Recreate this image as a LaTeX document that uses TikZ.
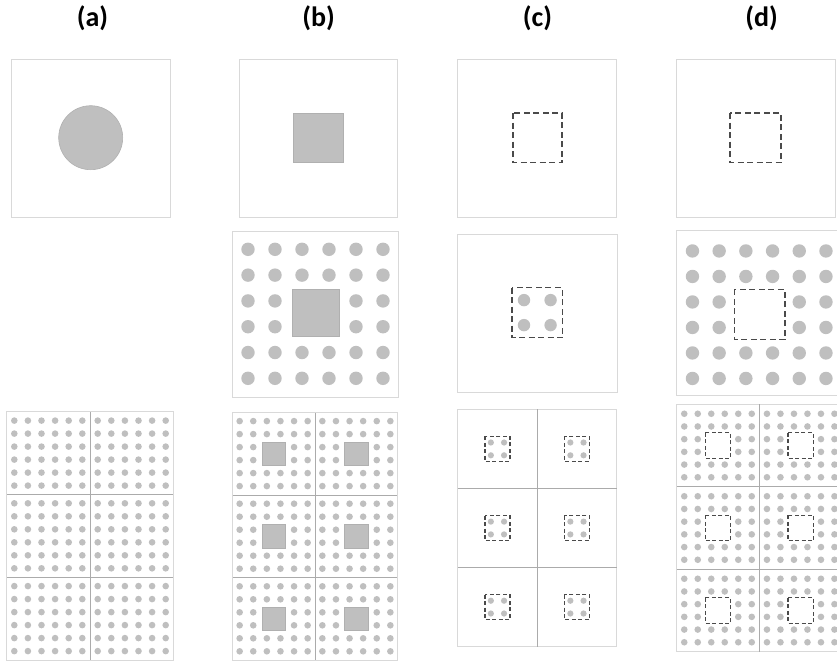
\documentclass[tikz,border=0pt]{standalone}
\usepackage{fontspec}
\setmainfont{Carlito}
\definecolor{bord}{HTML}{D9D9D9}
\definecolor{divc}{HTML}{ABABAB}
\definecolor{dotc}{HTML}{BFBFBF}
\definecolor{dashc}{HTML}{4A4A4A}
\newcommand{\dotgrid}[6]{%
  \foreach \i in {0,...,5}{\foreach \j in {0,...,5}{%
    \pgfmathtruncatemacro{\inner}{(#6==1)&&(\i>1)&&(\i<4)&&(\j>1)&&(\j<4)}%
    \ifnum\inner=0 \fill[dotc] ({#1+(\i-2.5)*#3},{#2+(\j-2.5)*#4}) circle[radius=#5pt];\fi
  }}}
\begin{document}
\begin{tikzpicture}[x=1pt,y=-1pt,
  panel/.style={draw=bord, line width=1pt, fill=white},
  divline/.style={draw=divc, line width=0.8pt},
  solidsq/.style={fill=dotc, draw=dotc!92!black, line width=0.6pt},
  dashsq/.style={draw=dashc, line width=1.4pt, dash pattern=on 6pt off 3.5pt},
  smalldash/.style={draw=dashc, line width=1.2pt, dash pattern=on 4pt off 2.5pt},
  lab/.style={font=\bfseries\fontsize{28}{32}\selectfont, inner sep=0pt}]
\useasboundingbox (0,0) rectangle (837,664);
\clip (0,0) rectangle (837,664);
\fill[white] (0,0) rectangle (837,664);

% labels
\node[lab] (la) at (92.5,18) {(a)};
\node[lab] (lb) at (318.5,18) {(b)};
\node[lab] (lc) at (537.5,18) {(c)};
\node[lab] (ld) at (761.5,18) {(d)};

% ---------- top row
\draw[panel] (11.7,59) rectangle (170.8,217);
\draw[fill=dotc, draw=dotc!92!black, line width=0.6pt] (90.7,137.7) circle[radius=32pt];
\draw[panel] (239.1,59) rectangle (397.7,217);
\draw[solidsq] (293.6,113) rectangle (343.5,162.5);
\draw[panel] (457.5,59) rectangle (616.5,217);
\draw[dashsq] (513,113) rectangle (562,162.5);
\draw[panel] (676.3,59) rectangle (835.4,217);
\draw[dashsq] (730,113) rectangle (781,162.5);

% ---------- middle row
% (b)
\draw[panel] (232.5,231) rectangle (398,397);
\dotgrid{315.5}{313.8}{27}{25.8}{6.7}{1}
\draw[solidsq] (292,289.2) rectangle (339,336.2);
% (c)
\draw[panel] (457.7,234) rectangle (617.3,392.3);
\foreach \sx in {-1,1}{\foreach \sy in {-1,1}{
  \fill[dotc] ({537.3+\sx*13.3},{312.6+\sy*12.5}) circle[radius=6.2pt];}}
\draw[dashsq] (512,287.7) rectangle (562.3,337.7);
% (d)
\draw[panel] (676.7,230) rectangle (842,395);
\dotgrid{759.2}{314.7}{26.7}{25.5}{6.7}{1}
\draw[dashsq] (734.3,289.3) rectangle (785,339.3);

% ---------- bottom row
% (a)
\draw[panel] (6.7,411.7) rectangle (173.3,660);
\foreach \cx in {48.3,131.7}{\foreach \cy in {453.1,535.8,618.6}{
  \dotgrid{\cx}{\cy}{13.6}{13.0}{3.3}{0}}}
\draw[divline] (90,411.7) -- (90,660);
\draw[divline] (6.7,494.5) -- (173.3,494.5);
\draw[divline] (6.7,577.3) -- (173.3,577.3);
\draw[draw=bord, line width=1pt] (6.7,411.7) rectangle (173.3,660);
% (b)
\draw[panel] (232.3,412.3) rectangle (397.7,660);
\foreach \cx in {273.65,356.35}{\foreach \cy in {453.6,536.2,618.8}{
  \dotgrid{\cx}{\cy}{13.6}{13.0}{3.3}{1}
  \draw[solidsq] ({\cx-11.8},{\cy-11.8}) rectangle ({\cx+11.8},{\cy+11.8});}}
\draw[divline] (315,412.3) -- (315,660);
\draw[divline] (232.3,494.9) -- (397.7,494.9);
\draw[divline] (232.3,577.4) -- (397.7,577.4);
\draw[draw=bord, line width=1pt] (232.3,412.3) rectangle (397.7,660);
% (c)
\draw[panel] (457.7,409.3) rectangle (616.7,646.7);
\foreach \cx in {497.45,576.95}{\foreach \cy in {448.9,528.0,607.1}{
  \foreach \sx in {-1,1}{\foreach \sy in {-1,1}{
    \fill[dotc] ({\cx+\sx*6.6},{\cy+\sy*6.4}) circle[radius=3.1pt];}}
  \draw[smalldash] ({\cx-12.5},{\cy-12.5}) rectangle ({\cx+12.5},{\cy+12.5});}}
\draw[divline] (537.2,409.3) -- (537.2,646.7);
\draw[divline] (457.7,488.4) -- (616.7,488.4);
\draw[divline] (457.7,567.6) -- (616.7,567.6);
% (d)
\draw[panel] (676.7,404.3) rectangle (842,651.7);
\foreach \cx in {718.0,800.7}{\foreach \cy in {445.5,528.0,610.5}{
  \dotgrid{\cx}{\cy}{13.5}{12.7}{3.3}{1}
  \draw[smalldash] ({\cx-12.7},{\cy-12.7}) rectangle ({\cx+12.7},{\cy+12.7});}}
\draw[divline] (759.35,404.3) -- (759.35,651.7);
\draw[divline] (676.7,486.8) -- (842,486.8);
\draw[divline] (676.7,569.2) -- (842,569.2);
\end{tikzpicture}
\end{document}
